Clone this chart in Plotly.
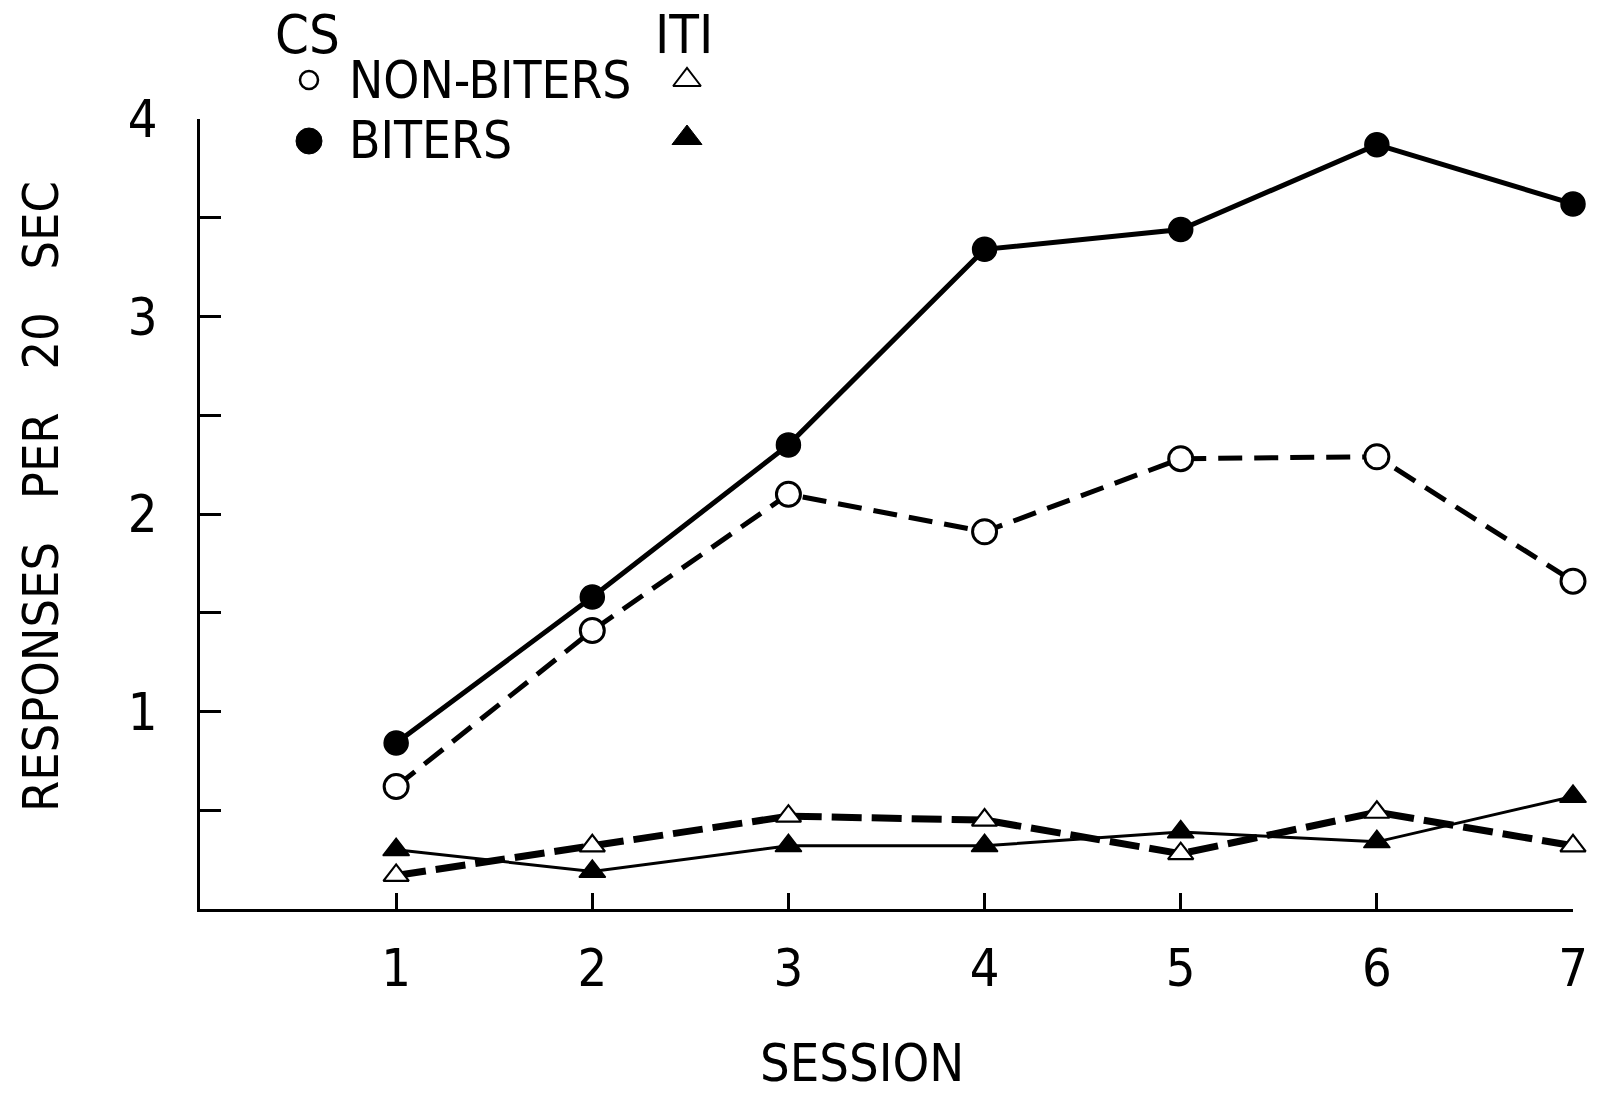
import plotly.graph_objects as go

# Mean responses per 20-sec period, sessions 1-7
sessions = [1, 2, 3, 4, 5, 6, 7]
cs_biters = [0.84, 1.58, 2.35, 3.34, 3.44, 3.87, 3.57]
cs_nonbiters = [0.62, 1.41, 2.10, 1.91, 2.28, 2.29, 1.66]
iti_nonbiters = [0.17, 0.32, 0.47, 0.45, 0.28, 0.49, 0.32]
iti_biters = [0.30, 0.19, 0.32, 0.32, 0.39, 0.34, 0.57]

y_tick_vals = [0.5, 1, 1.5, 2, 2.5, 3, 3.5, 4]
y_tick_text = ["", "1", "", "2", "", "3", "", "4"]

W, H = 1600, 1094
FONT = "Liberation Sans Narrow, DejaVu Sans Condensed, Liberation Sans, sans-serif"
INK = "black"

# plot box in pixels
left, right, top, bottom = 200, 1573, 119, 909

fig = go.Figure()

fig.add_trace(go.Scatter(
    x=sessions, y=iti_biters, mode="lines+markers", cliponaxis=False,
    line=dict(color=INK, width=3),
    marker=dict(symbol="triangle-up", size=23, color=INK, opacity=1,
                line=dict(color=INK, width=1.5)),
))
fig.add_trace(go.Scatter(
    x=sessions, y=iti_nonbiters, mode="lines+markers", cliponaxis=False,
    line=dict(color=INK, width=7, dash="30px,10px"),
    marker=dict(symbol="triangle-up", size=22, color="white", opacity=1,
                line=dict(color=INK, width=2.2)),
))
fig.add_trace(go.Scatter(
    x=sessions, y=cs_nonbiters, mode="lines+markers", cliponaxis=False,
    line=dict(color=INK, width=5, dash="24px,12px"),
    marker=dict(symbol="circle", size=24, color="white", opacity=1,
                line=dict(color=INK, width=3)),
))
fig.add_trace(go.Scatter(
    x=sessions, y=cs_biters, mode="lines+markers", cliponaxis=False,
    line=dict(color=INK, width=5),
    marker=dict(symbol="circle", size=24, color=INK, opacity=1,
                line=dict(color=INK, width=1.5)),
))

# key symbols, placed on a pixel-space overlay axis pair
key_x = [309, 309, 687, 687]
key_y = [80, 141, 80, 138]
fig.add_trace(go.Scatter(
    x=key_x, y=key_y, mode="markers", xaxis="x2", yaxis="y2", cliponaxis=False,
    marker=dict(symbol=["circle", "circle", "triangle-up", "triangle-up"],
                size=[18, 26, 24, 26], opacity=1,
                color=["white", INK, "white", INK],
                line=dict(color=INK, width=[2.5, 1, 2, 1])),
))

def label(text, x, y, size=54, xanchor="center", angle=0):
    fig.add_annotation(text=text, x=x, y=y, xref="x2", yref="y2", showarrow=False,
                       xanchor=xanchor, yanchor="middle", textangle=angle,
                       font=dict(family=FONT, size=size, color=INK))

label("CS", 307, 34)
label("ITI", 684, 34)
label("NON-BITERS", 347, 80, size=51, xanchor="left")
label("BITERS", 347, 140, size=51, xanchor="left")
label("SESSION", 862, 1063, size=52)
sp = "\u00a0" * 3
label("RESPONSES" + sp + "PER" + sp + "20" + sp + "SEC", 41, 497, size=50, angle=-90)

fig.update_layout(
    width=W, height=H,
    margin=dict(l=0, r=0, t=0, b=0, autoexpand=False),
    paper_bgcolor="white", plot_bgcolor="rgba(0,0,0,0)",
    showlegend=False,
    font=dict(family=FONT, color=INK),
    xaxis=dict(
        domain=[left / W, right / W], range=[0, 7], anchor="y", automargin=False,
        showgrid=False, zeroline=False, showline=True, linecolor=INK, linewidth=3,
        tickvals=sessions, ticktext=[str(s) for s in sessions],
        ticks="inside", ticklen=16, tickwidth=2.5, tickcolor=INK,
        ticklabelstandoff=12,
        tickfont=dict(family=FONT, size=52, color=INK),
    ),
    yaxis=dict(
        domain=[1 - bottom / H, 1 - top / H], range=[0, 4], anchor="x", automargin=False,
        showgrid=False, zeroline=False, showline=True, linecolor=INK, linewidth=3,
        tickvals=y_tick_vals, ticktext=y_tick_text,
        ticks="inside", ticklen=21, tickwidth=2.5, tickcolor=INK,
        ticklabelstandoff=29,
        tickfont=dict(family=FONT, size=52, color=INK),
    ),
    xaxis2=dict(domain=[0, 1], range=[0, W], anchor="y2", visible=False,
                fixedrange=True, automargin=False),
    yaxis2=dict(domain=[0, 1], range=[H, 0], anchor="x2", visible=False,
                fixedrange=True, automargin=False),
)

fig.write_html("out.html")
